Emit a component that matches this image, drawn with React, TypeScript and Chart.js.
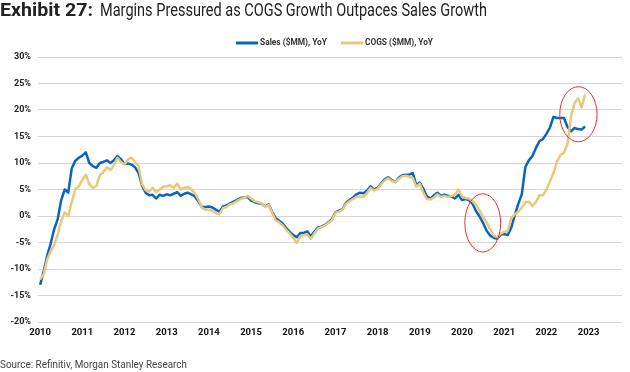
import React, { useEffect, useRef } from "react";
import { Chart, registerables } from "chart.js";

Chart.register(...registerables);

// Monthly YoY growth, Jan 2010 .. Dec 2022 (%)
const salesYoY: number[] = [
  -13.0, -10.5, -7.5, -5.2, -2.5, -0.6, 3.0, 5.0, 4.4, 9.0, 10.4, 11.0,
  11.4, 12.0, 10.0, 9.4, 9.1, 10.0, 10.2, 10.5, 10.0, 10.5, 11.3, 10.7,
  9.8, 9.9, 9.7, 9.2, 8.1, 5.7, 4.4, 3.9, 4.0, 3.3, 4.0, 3.8,
  4.1, 3.9, 4.2, 4.5, 3.8, 4.2, 4.4, 4.1, 3.7, 2.8, 1.7, 1.7,
  1.8, 1.6, 1.2, 0.8, 1.8, 2.0, 2.4, 2.7, 3.0, 3.4, 3.5, 3.6,
  2.9, 2.6, 2.4, 2.3, 1.8, 2.2, 0.8, -0.4, -0.9, -1.4, -2.3, -3.0,
  -3.6, -4.0, -3.2, -3.2, -2.9, -3.8, -3.0, -2.2, -2.0, -1.7, -1.2, -0.6,
  0.7, 1.0, 1.3, 2.5, 3.0, 3.5, 4.1, 4.4, 4.3, 4.8, 5.6, 5.0,
  5.3, 6.2, 6.9, 7.3, 6.8, 6.4, 7.2, 7.7, 7.8, 7.8, 8.1, 5.8,
  6.3, 5.1, 3.7, 3.3, 3.9, 4.4, 3.8, 4.0, 3.8, 3.7, 3.3, 4.0,
  3.0, 3.2, 3.0, 2.3, 0.9, -0.1, -1.3, -2.8, -3.7, -4.1, -4.3, -3.5,
  -3.4, -3.6, -2.2, 0.1, 2.3, 4.1, 9.2, 10.5, 11.3, 12.8, 14.1, 14.5,
  15.5, 16.7, 18.7, 18.5, 18.5, 18.5, 16.8, 16.0, 16.6, 16.4, 16.3, 16.9,
];

const cogsYoY: number[] = [
  -12.0, -11.0, -8.2, -6.6, -5.5, -3.5, -1.0, 0.7, 0.0, 2.6, 5.0, 5.6,
  6.8, 7.8, 6.0, 5.3, 5.7, 7.7, 8.3, 9.2, 8.7, 9.6, 11.0, 10.2,
  9.7, 10.7, 11.0, 10.2, 9.4, 6.0, 4.9, 4.6, 5.3, 4.5, 5.0, 5.5,
  5.6, 5.8, 5.3, 6.1, 5.0, 5.3, 5.5, 5.0, 4.3, 3.2, 1.6, 1.2,
  1.2, 1.0, 0.5, 0.3, 1.5, 1.7, 2.2, 2.4, 2.8, 3.2, 3.4, 3.8,
  3.3, 2.8, 2.6, 2.4, 1.7, 2.1, 0.6, -0.8, -1.2, -1.8, -2.6, -3.3,
  -4.1, -5.1, -3.8, -3.6, -3.5, -4.3, -3.3, -2.4, -2.1, -1.8, -1.3, -0.8,
  0.6, 0.8, 1.2, 2.3, 2.8, 3.2, 3.6, 3.7, 3.6, 4.4, 5.3, 4.8,
  5.1, 6.0, 6.7, 7.1, 6.6, 6.4, 7.0, 7.5, 7.6, 7.4, 7.2, 5.5,
  6.1, 4.4, 3.2, 3.1, 3.5, 4.1, 3.6, 3.8, 3.6, 3.8, 4.0, 5.0,
  3.7, 3.4, 3.3, 2.8, 2.1, 1.0, -0.2, -1.2, -2.5, -3.7, -4.0, -3.3,
  -3.0, -2.8, -0.4, 0.3, 0.8, 1.6, 2.6, 2.7, 1.9, 2.6, 3.9, 3.9,
  5.0, 6.5, 8.1, 10.2, 11.5, 12.0, 13.6, 18.8, 21.3, 22.2, 20.5, 22.9,
];

const yearLabels: string[] = [
  "2010", "2011", "2012", "2013", "2014", "2015", "2016",
  "2017", "2018", "2019", "2020", "2021", "2022", "2023",
];

const seriesNames: string[] = ["Sales ($MM), YoY", "COGS ($MM), YoY"];
const seriesColors: string[] = ["#0b64c0", "#e9c87c"];

const titleBold = "Exhibit 27:";
const titleText = "Margins Pressured as COGS Growth Outpaces Sales Growth";
const sourceText = "Source: Refinitiv, Morgan Stanley Research";

// Red highlight ellipses: centre (month index, %) and radii (months, %)
const highlightCentres: [number, number][] = [
  [125.9, -1.3],
  [153.1, 19.2],
];
const highlightRadii: [number, number][] = [
  [5.1, 5.5],
  [5.3, 5.2],
];

function drawFitText(
  ctx: CanvasRenderingContext2D,
  text: string,
  font: string,
  x: number,
  y: number,
  width: number,
  color: string
) {
  ctx.save();
  ctx.font = font;
  ctx.fillStyle = color;
  ctx.textBaseline = "middle";
  ctx.textAlign = "left";
  const w = ctx.measureText(text).width;
  ctx.translate(x, y);
  ctx.scale(width / w, 1);
  ctx.fillText(text, 0, 0);
  ctx.restore();
}

const decorPlugin = {
  id: "decor",
  afterDatasetsDraw(chart: any) {
    const ctx = chart.ctx as CanvasRenderingContext2D;
    const xs = chart.scales.x;
    const ys = chart.scales.y;
    ctx.save();
    ctx.strokeStyle = "#e8312c";
    ctx.lineWidth = 1;
    highlightCentres.forEach((c, k) => {
      const px = xs.getPixelForValue(c[0]);
      const py = ys.getPixelForValue(c[1]);
      const rx = Math.abs(xs.getPixelForValue(c[0] + highlightRadii[k][0]) - px);
      const ry = Math.abs(ys.getPixelForValue(c[1] + highlightRadii[k][1]) - py);
      ctx.beginPath();
      ctx.ellipse(px, py, rx, ry, 0, 0, Math.PI * 2);
      ctx.stroke();
    });
    ctx.restore();
  },
  afterDraw(chart: any) {
    const ctx = chart.ctx as CanvasRenderingContext2D;
    // title
    drawFitText(ctx, titleBold, "bold 18px Roboto", 0, 11, 93, "#222222");
    drawFitText(ctx, titleText, "18px Roboto", 100, 11, 387, "#222222");
    // legend
    const legendY = 43;
    const swatches: [number, number, number][] = [
      [236, 258, 260],
      [341, 363, 365],
    ];
    const textW = [67, 68];
    swatches.forEach((s, k) => {
      ctx.save();
      ctx.strokeStyle = seriesColors[k];
      ctx.lineWidth = 3;
      ctx.beginPath();
      ctx.moveTo(s[0], legendY);
      ctx.lineTo(s[1], legendY);
      ctx.stroke();
      ctx.restore();
      drawFitText(ctx, seriesNames[k], "bold 9px Roboto", s[2], legendY, textW[k], "#333333");
    });
    // source
    drawFitText(ctx, sourceText, "11px Roboto", 0, 365, 187, "#444444");
  },
};

export default function App() {
  const canvasRef = useRef<HTMLCanvasElement | null>(null);

  useEffect(() => {
    if (!canvasRef.current) return;
    const chart = new Chart(canvasRef.current, {
      type: "line",
      data: {
        datasets: [
          {
            label: seriesNames[0],
            data: salesYoY.map((v, i) => ({ x: i, y: v })),
            borderColor: seriesColors[0],
            backgroundColor: seriesColors[0],
            borderWidth: 2.5,
            pointRadius: 0,
            tension: 0,
            borderJoinStyle: "round",
            order: 1,
          },
          {
            label: seriesNames[1],
            data: cogsYoY.map((v, i) => ({ x: i, y: v })),
            borderColor: seriesColors[1],
            backgroundColor: seriesColors[1],
            borderWidth: 2.5,
            pointRadius: 0,
            tension: 0,
            borderJoinStyle: "round",
            order: 0,
          },
        ],
      },
      options: {
        animation: false,
        responsive: false,
        maintainAspectRatio: false,
        layout: { padding: { top: 57, right: 8, left: 0, bottom: 0 } },
        plugins: {
          legend: { display: false },
          tooltip: { enabled: false },
          title: { display: false },
        },
        scales: {
          x: {
            type: "linear",
            min: -0.6,
            max: 165.5,
            grid: { display: false, drawTicks: false },
            border: { display: false },
            afterFit: (scale: any) => {
              scale.height = 50;
            },
            afterBuildTicks: (scale: any) => {
              scale.ticks = yearLabels.map((_, k) => ({ value: k * 12 }));
            },
            ticks: {
              autoSkip: false,
              maxRotation: 0,
              padding: 5,
              color: "#111111",
              font: { family: "Roboto", size: 9.5, weight: "bold" },
              callback: (v: any) => yearLabels[Math.round(Number(v) / 12)] ?? "",
            },
          },
          y: {
            min: -20,
            max: 30,
            grid: { color: "#d6d6d6", lineWidth: 1, drawTicks: false },
            border: { display: false },
            afterFit: (scale: any) => {
              scale.width = 38;
            },
            ticks: {
              stepSize: 5,
              padding: 7,
              color: "#222222",
              font: { family: "Roboto", size: 9, weight: "bold" },
              callback: (v: any) => `${v}%`,
            },
          },
        },
      },
      plugins: [decorPlugin],
    } as any);
    return () => chart.destroy();
  }, []);

  return (
    <div style={{ position: "fixed", left: 0, top: 0, width: 630, height: 372, background: "#ffffff" }}>
      <canvas ref={canvasRef} width={630} height={372} style={{ width: 630, height: 372 }} />
    </div>
  );
}
